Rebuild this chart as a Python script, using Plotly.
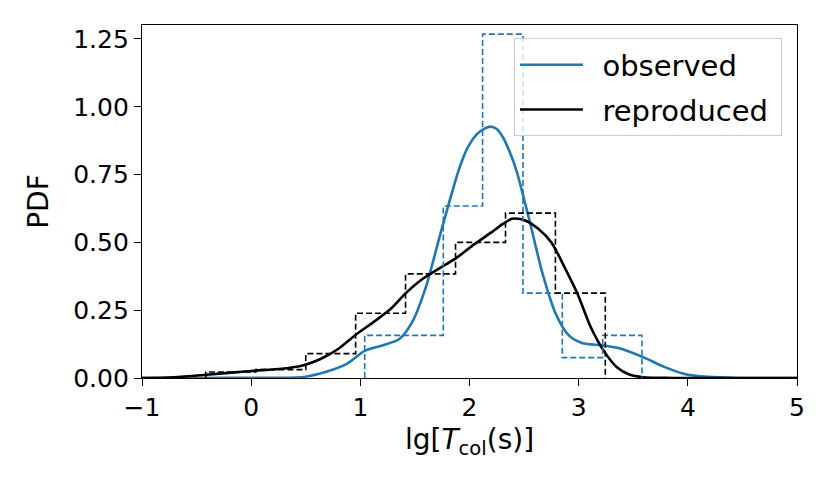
import plotly.graph_objects as go

# histogram bins (density)
obs_edges = [1.04, 1.40, 1.76, 2.12, 2.49, 2.85, 3.22, 3.58]
obs_heights = [0.157, 0.157, 0.634, 1.268, 0.313, 0.075, 0.157]
rep_edges = [-0.415, 0.043, 0.50, 0.957, 1.414, 1.872, 2.33, 2.787, 3.244]
rep_heights = [0.022, 0.031, 0.090, 0.239, 0.384, 0.500, 0.608, 0.313]

# KDE curves
obs_x = [-1.0, -0.5, 0.0, 0.48, 0.68, 0.88, 1.04, 1.20, 1.36, 1.48, 1.60, 1.75, 1.91, 1.99, 2.07, 2.13, 2.19,
         2.25, 2.31, 2.37, 2.43, 2.55, 2.67, 2.79, 2.91, 3.03, 3.23, 3.39, 3.59, 3.79, 3.98, 4.18, 4.46, 5.0]
obs_y = [0.0, 0.0, 0.001, 0.004, 0.022, 0.053, 0.10, 0.12, 0.145, 0.21, 0.335, 0.556, 0.777, 0.855, 0.90, 0.918, 0.927,
         0.918, 0.885, 0.832, 0.765, 0.58, 0.384, 0.237, 0.157, 0.129, 0.12, 0.108, 0.077, 0.04, 0.0135, 0.004, 0.0, 0.0]
rep_x = [-1.0, -0.71, -0.41, 0.0, 0.28, 0.48, 0.64, 0.80, 0.95, 1.12, 1.28, 1.41, 1.56, 1.72, 1.87,
         2.03, 2.19, 2.31, 2.39, 2.51, 2.63, 2.75, 2.87, 2.99, 3.11, 3.23, 3.35, 3.47, 3.59, 3.86, 5.0]
rep_y = [0.0, 0.003, 0.012, 0.026, 0.034, 0.047, 0.071, 0.108, 0.157, 0.206, 0.255, 0.31, 0.362, 0.403, 0.44,
         0.489, 0.534, 0.569, 0.587, 0.581, 0.55, 0.50, 0.409, 0.31, 0.188, 0.10, 0.04, 0.012, 0.003, 0.0, 0.0]

BLUE = '#1f77b4'
FONT = 'DejaVu Sans'


def step_outline(edges, heights):
    # outline of a matplotlib 'step' histogram
    x = [edges[0]] + list(edges) + [edges[-1]]
    y = [0] + list(heights) + [heights[-1], 0]
    return x, y


fig = go.Figure()
# en space in the names widens the gap between legend line and text like matplotlib
fig.add_trace(go.Scatter(
    name='\u2002observed\u2005', legendgroup='obs', x=obs_x, y=obs_y, mode='lines',
    line=dict(color=BLUE, width=2.6, shape='spline', smoothing=0.8),
))
fig.add_trace(go.Scatter(
    name='\u2002reproduced\u2005', legendgroup='rep', x=rep_x, y=rep_y, mode='lines',
    line=dict(color='black', width=2.6, shape='spline', smoothing=0.8),
))
hx, hy = step_outline(obs_edges, obs_heights)
fig.add_trace(go.Scatter(
    x=hx, y=hy, mode='lines', line=dict(color=BLUE, width=1.6, dash='6px,3px', shape='hv'), showlegend=False,
))
hx, hy = step_outline(rep_edges, rep_heights)
fig.add_trace(go.Scatter(
    x=hx, y=hy, mode='lines', line=dict(color='black', width=1.6, dash='6px,3px', shape='hv'), showlegend=False,
))

axis = dict(
    showgrid=False, zeroline=False, showline=True, mirror=True, linecolor='black', linewidth=1.3,
    ticks='outside', ticklen=7, tickwidth=1.3, tickcolor='black',
    tickfont=dict(family=FONT, size=25, color='black'),
)
fig.update_layout(
    width=830, height=498,
    margin=dict(l=134, r=41, t=17, b=128),
    plot_bgcolor='white', paper_bgcolor='white',
    font=dict(family=FONT, color='black'),
    xaxis=dict(axis, range=[-1, 5], tickvals=[-1, 0, 1, 2, 3, 4, 5], ticktext=['\u22121', '0', '1', '2', '3', '4', '5'],
               title=dict(text='lg[<i>T</i><sub>col</sub>(s)]', font=dict(family=FONT, size=28), standoff=8)),
    yaxis=dict(axis, range=[0, 1.3016], tickvals=[0, 0.25, 0.5, 0.75, 1.0, 1.25], tickformat='.2f',
               title=dict(text='PDF', font=dict(family=FONT, size=28), standoff=16)),
    legend=dict(
        x=0.977, y=0.962, xanchor='right', yanchor='top', itemwidth=63, tracegroupgap=4,
        bgcolor='rgba(255,255,255,0.8)', bordercolor='#cccccc', borderwidth=1,
        font=dict(family=FONT, size=29, color='black'),
    ),
)

fig.write_html('out.html')
